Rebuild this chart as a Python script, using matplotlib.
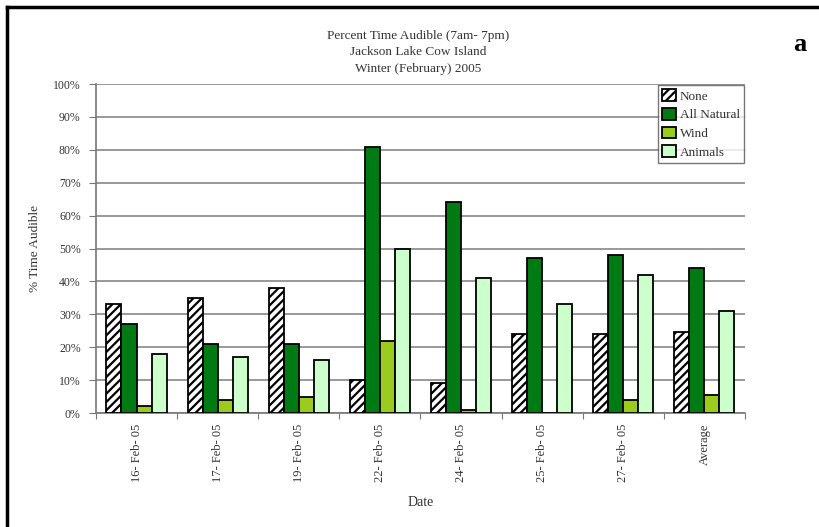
import numpy as np
import matplotlib.pyplot as plt
from matplotlib.lines import Line2D

plt.rcParams['font.family'] = ['Liberation Serif', 'DejaVu Serif']
plt.rcParams['hatch.linewidth'] = 1.6

dates = ['16- Feb- 05', '17- Feb- 05', '19- Feb- 05', '22- Feb- 05',
         '24- Feb- 05', '25- Feb- 05', '27- Feb- 05', 'Average']
none_pct = [33, 35, 38, 10, 9, 24, 24, 24.7]
all_natural = [27, 21, 21, 81, 64, 47, 48, 44]
wind = [2, 4, 5, 22, 1, 0, 4, 5.5]
animals = [18, 17, 16, 50, 41, 33, 42, 31]

series = [
    ('None', none_pct, 'white', '////'),
    ('All Natural', all_natural, '#007a12', None),
    ('Wind', wind, '#99cc1f', None),
    ('Animals', animals, '#ccffcc', None),
]

fig = plt.figure(figsize=(8.2, 5.27), dpi=100)
ax = fig.add_axes([0.117, 0.2163, 0.7915, 0.6243])

x = np.arange(len(dates))
w = 0.185
for i, (name, vals, color, hatch) in enumerate(series):
    ax.bar(x + (i - 1.5) * w, vals, w, color=color, edgecolor='black',
           linewidth=1.3, hatch=hatch, label=name, zorder=3)

ax.set_xlim(-0.5, len(dates) - 0.5)
ax.set_ylim(0, 100)
ax.set_yticks(np.arange(0, 101, 10))
ax.set_yticklabels([f'{v}%' for v in range(0, 101, 10)], fontsize=8.5, color='#333333')
ax.yaxis.grid(True, color='#888888', linewidth=1.2, zorder=0)
ax.set_xticks(np.arange(-0.5, len(dates), 1.0), minor=False)
ax.set_xticklabels([])
ax.set_xticks(x, minor=True)
ax.set_xticklabels(dates, minor=True, rotation=90, fontsize=9, color='#333333')
ax.tick_params(axis='x', which='minor', length=0, pad=8)
ax.tick_params(axis='x', which='major', length=4, color='#777777', direction='out')
ax.tick_params(axis='y', length=5, color='#777777', pad=6)

for s in ['top', 'right']:
    ax.spines[s].set_visible(False)
for s in ['left', 'bottom']:
    ax.spines[s].set_color('#777777')
    ax.spines[s].set_linewidth(1.2)

ax.set_xlabel('Date', fontsize=10, color='#333333', labelpad=10)
ax.set_ylabel('% Time Audible', fontsize=9.5, color='#333333', labelpad=9)

fig.text(0.51, 0.944, 'Percent Time Audible (7am- 7pm)\nJackson Lake Cow Island\nWinter (February) 2005',
         ha='center', va='top', fontsize=9.5, color='#333333', linespacing=1.55)
fig.text(0.975, 0.915, 'a', ha='center', va='center', fontsize=19, fontweight='bold')

leg = ax.legend(loc='upper right', bbox_to_anchor=(1.0, 1.0), fontsize=9.5,
                frameon=True, fancybox=False, edgecolor='#555555',
                handlelength=1.0, handleheight=1.0, handletextpad=0.3,
                borderpad=0.3, labelspacing=0.4, borderaxespad=0.1)
leg.get_frame().set_linewidth(1.0)
for t in leg.get_texts():
    t.set_color('#333333')

fig.add_artist(Line2D([0.009, 0.009], [0.0, 0.987], color='black', linewidth=2.5,
                      transform=fig.transFigure))
fig.add_artist(Line2D([0.009, 1.0], [0.987, 0.987], color='black', linewidth=2.5,
                      transform=fig.transFigure))

fig.savefig('out.png', dpi=100)
